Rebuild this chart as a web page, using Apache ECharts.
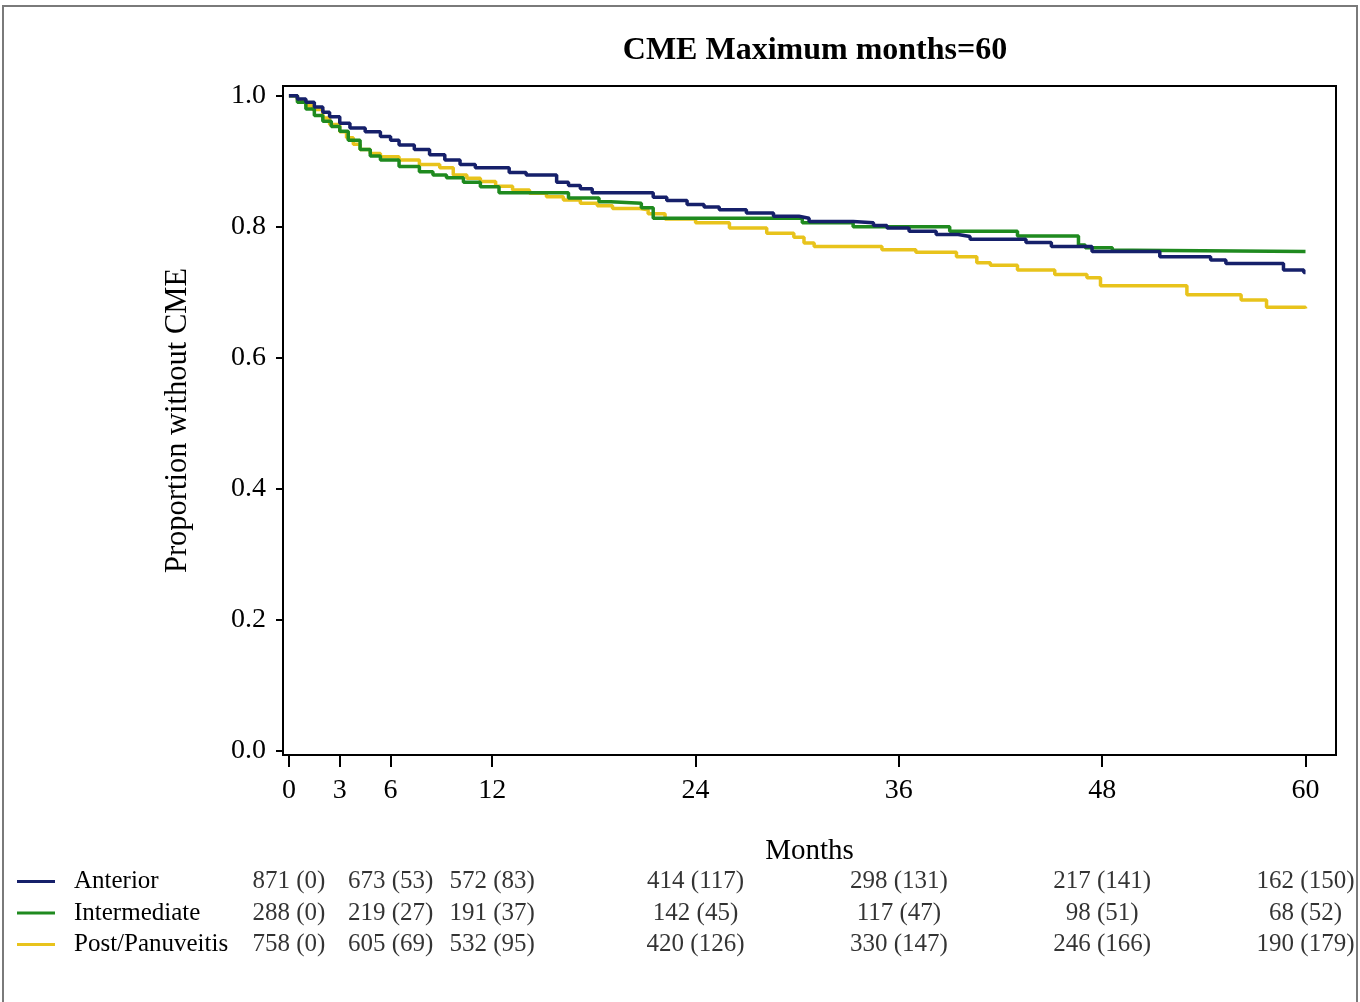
<!DOCTYPE html>
<html><head><meta charset="utf-8">
<script src="https://cdn.jsdelivr.net/npm/echarts@6/dist/echarts.min.js"></script>
<style>html,body{margin:0;padding:0;background:#fff}#c{width:1360px;height:1002px}</style>
</head><body><div id="c"></div>
<script>
const groups = ['Anterior', 'Intermediate', 'Post/Panuveitis'];
const groupColors = ['#16206a', '#1f8a1f', '#e8c31c'];

// Kaplan-Meier curves: [month, proportion without CME] (value holds from that month on)
const anteriorCurve = [[0,1.0],[0.5,0.995],[1.0,0.99],[1.5,0.983],[2.0,0.975],[2.4,0.968],[3.0,0.958],[3.6,0.951],[4.5,0.945],[5.4,0.938],[6.0,0.932],[6.5,0.925],[7.4,0.918],[8.3,0.910],[9.2,0.902],[10.1,0.895],[11.0,0.890],[13.0,0.883],[14.0,0.879],[15.8,0.868],[16.5,0.863],[17.2,0.858],[17.9,0.852],[21.5,0.845],[22.3,0.840],[23.5,0.834],[24.5,0.830],[25.4,0.826],[27.0,0.821],[28.6,0.816],[30.1,0.813],[30.7,0.808],[33.3,0.806],[34.5,0.802],[35.3,0.798],[36.6,0.793],[38.2,0.788],[39.5,0.785],[40.2,0.781],[43.5,0.776],[45.0,0.770],[47.4,0.762],[51.4,0.754],[54.4,0.749],[55.3,0.744],[58.7,0.734],[59.9,0.730],[60,0.730]];
const intermediateCurve = [[0,1.0],[0.5,0.99],[1.0,0.98],[1.5,0.970],[2.0,0.961],[2.5,0.953],[3.0,0.946],[3.5,0.932],[4.2,0.918],[4.8,0.908],[5.4,0.902],[6.5,0.892],[7.7,0.884],[8.5,0.879],[9.3,0.875],[10.3,0.868],[11.3,0.861],[12.4,0.852],[16.5,0.844],[18.3,0.838],[19.0,0.836],[20.8,0.829],[21.5,0.813],[30.3,0.806],[33.3,0.800],[39.0,0.793],[43.0,0.786],[46.6,0.772],[47.0,0.768],[48.6,0.764],[49.8,0.762],[60,0.762]];
const postCurve = [[0,1.0],[0.5,0.993],[1.0,0.985],[1.4,0.979],[2.0,0.966],[2.4,0.956],[3.0,0.945],[3.4,0.936],[3.8,0.926],[4.2,0.918],[4.8,0.912],[5.4,0.907],[6.5,0.902],[7.7,0.895],[8.9,0.890],[9.7,0.879],[10.5,0.874],[11.3,0.869],[12.2,0.862],[13.2,0.856],[14.2,0.851],[15.2,0.846],[16.2,0.841],[17.2,0.836],[18.2,0.832],[19.1,0.828],[20.7,0.826],[21.2,0.820],[22.2,0.812],[24.0,0.806],[26.0,0.798],[28.2,0.790],[29.8,0.784],[30.4,0.775],[31.0,0.770],[35.0,0.765],[37.0,0.761],[39.4,0.754],[40.6,0.745],[41.4,0.741],[43.0,0.734],[45.2,0.727],[47.1,0.722],[47.9,0.710],[53.0,0.696],[56.2,0.688],[57.7,0.677],[60,0.675]];

// Number at risk table
const riskTimes = [0, 6, 12, 24, 36, 48, 60];
const anteriorAtRisk = [871, 673, 572, 414, 298, 217, 162];
const anteriorEvents = [0, 53, 83, 117, 131, 141, 150];
const intermediateAtRisk = [288, 219, 191, 142, 117, 98, 68];
const intermediateEvents = [0, 27, 37, 45, 47, 51, 52];
const postAtRisk = [758, 605, 532, 420, 330, 246, 190];
const postEvents = [0, 69, 95, 126, 147, 166, 179];

const xTicks = [0, 3, 6, 12, 24, 36, 48, 60];
const yTicks = [0, 0.2, 0.4, 0.6, 0.8, 1.0];

const FONT = '"Liberation Serif", "DejaVu Serif", serif';
const curves = [anteriorCurve, intermediateCurve, postCurve];
const atRisk = [anteriorAtRisk, intermediateAtRisk, postAtRisk];
const events = [anteriorEvents, intermediateEvents, postEvents];

const lineSeries = groups.map((g, i) => ({
  name: g, type: 'line', step: 'end', xAxisIndex: 0, yAxisIndex: 0,
  data: curves[i], showSymbol: false, symbol: 'none',
  lineStyle: { color: groupColors[i], width: 3.5 }, itemStyle: { color: groupColors[i] },
  z: 3 - i
}));
const riskSeries = groups.map((g, i) => ({
  name: g + ' at risk', type: 'scatter', xAxisIndex: 1, yAxisIndex: 1,
  symbolSize: 0, silent: true,
  data: riskTimes.map((t, k) => ({ value: [t, i], name: atRisk[i][k] + ' (' + events[i][k] + ')' })),
  label: { show: true, position: 'inside', formatter: '{b}', color: '#000', fontFamily: FONT, fontSize: 25 }
}));

const chart = echarts.init(document.getElementById('c'));
chart.setOption({
  animation: false,
  backgroundColor: '#fff',
  title: {
    text: 'CME Maximum months=60', left: 810, top: 30, textAlign: 'center',
    textStyle: { fontFamily: FONT, fontSize: 32, fontWeight: 'bold', color: '#000' }
  },
  legend: {
    data: groups, orient: 'vertical', left: 17, top: 869, itemGap: 6.5, padding: 0,
    icon: 'rect', itemWidth: 38, itemHeight: 3, selectedMode: false,
    textStyle: { fontFamily: FONT, fontSize: 25, color: '#000', padding: [0, 0, 0, 14] }
  },
  grid: [
    { left: 283, top: 86, width: 1053, height: 669, show: true, borderColor: '#000', borderWidth: 2, backgroundColor: 'transparent' },
    { left: 283, top: 866, width: 1053, height: 94.5, show: false }
  ],
  xAxis: [
    {
      type: 'value', gridIndex: 0, min: -0.35, max: 61.8,
      name: 'Months', nameLocation: 'middle', nameGap: 82,
      nameTextStyle: { fontFamily: FONT, fontSize: 29, color: '#000' },
      axisLine: { show: true, onZero: false, lineStyle: { color: '#000', width: 2 } },
      axisTick: { show: true, customValues: xTicks, length: 12, lineStyle: { color: '#000', width: 2 } },
      axisLabel: { customValues: xTicks, margin: 22, fontFamily: FONT, fontSize: 28, color: '#000' },
      splitLine: { show: false }
    },
    { type: 'value', gridIndex: 1, min: -0.35, max: 61.8, show: false }
  ],
  yAxis: [
    {
      type: 'value', gridIndex: 0, min: -0.007, max: 1.015,
      name: 'Proportion without CME', nameLocation: 'middle', nameGap: 90, nameRotate: 90,
      nameTextStyle: { fontFamily: FONT, fontSize: 30.5, color: '#000' },
      axisLine: { show: true, onZero: false, lineStyle: { color: '#000', width: 2 } },
      axisTick: { show: true, customValues: yTicks, length: 7, lineStyle: { color: '#000', width: 2 } },
      axisLabel: { customValues: yTicks, margin: 17, fontFamily: FONT, fontSize: 28, color: '#000', formatter: v => v.toFixed(1) },
      splitLine: { show: false }
    },
    { type: 'category', gridIndex: 1, data: groups, inverse: true, show: false }
  ],
  graphic: [{
    type: 'rect', silent: true, z: -10,
    shape: { x: 3, y: 6, width: 1354, height: 1010 },
    style: { fill: 'none', stroke: '#7a7a7a', lineWidth: 2 }
  }],
  series: lineSeries.concat(riskSeries)
});
</script>
</body></html>
